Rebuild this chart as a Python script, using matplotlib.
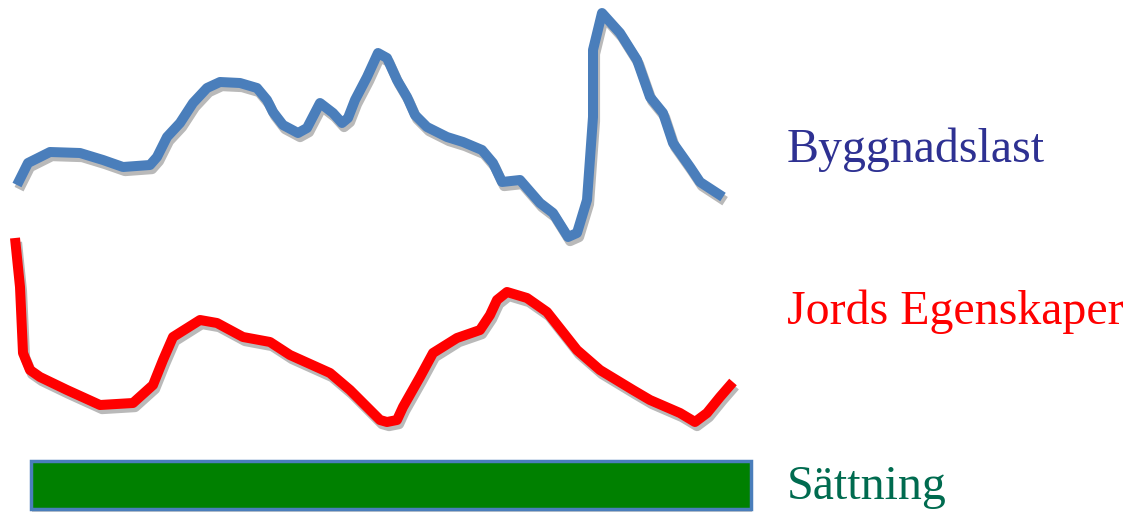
import matplotlib
matplotlib.use("Agg")
import matplotlib.pyplot as plt
import matplotlib.patheffects as pe
from matplotlib.patches import Rectangle

# Curves (x, y in picture units, y downwards)
load_x = [17, 28, 50, 80, 103, 123, 150, 157, 167, 180, 193, 207, 220, 240, 257,
          267, 273, 283, 298, 307, 320, 333, 342, 348, 355, 367, 378, 387, 397,
          407, 415, 427, 447, 463, 482, 493, 502, 520, 540, 553, 568, 577, 587,
          593, 593, 602, 620, 637, 650, 663, 673, 690, 700, 723]
load_y = [185, 163, 152, 153, 160, 167, 165, 157, 137, 123, 103, 88, 82, 83, 88,
          100, 112, 125, 133, 128, 103, 113, 123, 118, 100, 77, 53, 58, 80,
          97, 115, 127, 137, 142, 150, 163, 182, 180, 203, 213, 237, 233, 200,
          117, 50, 13, 33, 60, 97, 113, 143, 167, 182, 197]

soil_x = [15, 20, 23, 30, 40, 67, 100, 133, 153, 163, 173, 200, 217, 243, 270,
          290, 330, 350, 380, 387, 397, 403, 420, 433, 457, 480, 490, 497, 507,
          527, 547, 577, 600, 633, 650, 680, 695, 707, 720, 733]
soil_y = [238, 287, 353, 370, 377, 390, 405, 403, 385, 360, 337, 320, 323, 337,
          342, 355, 373, 390, 420, 422, 420, 407, 377, 353, 338, 330, 315, 300,
          292, 298, 312, 350, 370, 390, 400, 413, 422, 413, 397, 382]

labels = ["Byggnadslast", "Jords Egenskaper", "Sättning"]
label_y = [150, 312, 487]
label_colors = ["#2E3192", "#FF0000", "#006B4F"]

fig = plt.figure(figsize=(11.36, 5.13), dpi=100)
ax = fig.add_axes([0, 0, 1, 1])
ax.set_xlim(0, 1136)
ax.set_ylim(513, 0)
ax.axis("off")

shadow = [pe.SimpleLineShadow(offset=(1.5, -3), shadow_color="gray", alpha=0.55),
          pe.Normal()]
ax.plot(load_x, load_y, color="#4A7EBB", lw=7.2, solid_joinstyle="round",
        solid_capstyle="butt", path_effects=shadow)
ax.plot(soil_x, soil_y, color="#FF0000", lw=7.2, solid_joinstyle="round",
        solid_capstyle="butt", path_effects=shadow)

bar = Rectangle((31, 461), 720, 48, facecolor="#008000", edgecolor="#4A7EBB",
                lw=2.5, path_effects=[pe.SimplePatchShadow(offset=(1, -2),
                                                          shadow_rgbFace="gray",
                                                          alpha=0.4),
                                      pe.Normal()])
ax.add_patch(bar)

for txt, y, c in zip(labels, label_y, label_colors):
    ax.text(787, y, txt, color=c, fontsize=34.5, family="Liberation Serif",
            va="center", ha="left")

fig.savefig("out.png", dpi=100)
